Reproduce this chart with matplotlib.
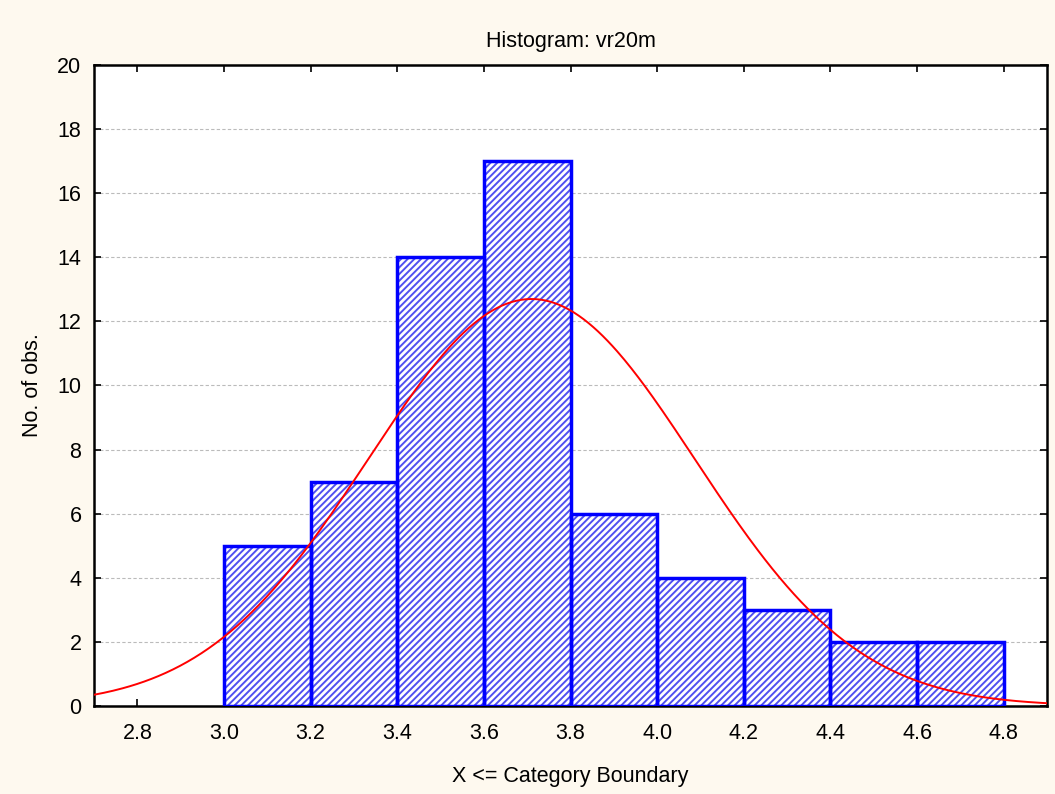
import numpy as np
import matplotlib
matplotlib.use("Agg")
import matplotlib.pyplot as plt

plt.rcParams['font.family'] = ['Liberation Sans', 'DejaVu Sans']
plt.rcParams['hatch.linewidth'] = 1.4

bin_edges = [3.0, 3.2, 3.4, 3.6, 3.8, 4.0, 4.2, 4.4, 4.6, 4.8]
counts = [5, 7, 14, 17, 6, 4, 3, 2, 2]
fit_mean = 3.71
fit_sd = 0.377
x_ticks = [2.8, 3.0, 3.2, 3.4, 3.6, 3.8, 4.0, 4.2, 4.4, 4.6, 4.8]
y_ticks = [0, 2, 4, 6, 8, 10, 12, 14, 16, 18, 20]

fig = plt.figure(figsize=(10.55, 7.94), dpi=100, facecolor='#FEF9EF')
ax = fig.add_axes([94/1055, 1-706/794, (1047-94)/1055, (706-65)/794])
ax.set_facecolor('white')

lefts = bin_edges[:-1]
width = bin_edges[1] - bin_edges[0]
ax.bar(lefts, counts, width=width, align='edge', color='white',
       edgecolor='#5050F0', hatch='/////', linewidth=0, zorder=2)
ax.bar(lefts, counts, width=width, align='edge', fill=False,
       edgecolor='#0000FF', linewidth=2.5, zorder=3)

n = sum(counts)
xs = np.linspace(2.7, 4.9, 400)
ys = n * width / (fit_sd * np.sqrt(2 * np.pi)) * np.exp(-0.5 * ((xs - fit_mean) / fit_sd) ** 2)
ax.plot(xs, ys, color='#FF0000', linewidth=1.4, zorder=4)

ax.set_xlim(2.7, 4.9)
ax.set_ylim(0, 20)
ax.set_xticks(x_ticks)
ax.set_xticklabels([f'{v:.1f}' for v in x_ticks])
ax.set_yticks(y_ticks)
ax.yaxis.grid(True, linestyle=(0, (3, 2)), color='#BBBBBB', linewidth=0.8, zorder=0)
ax.set_axisbelow(True)
ax.tick_params(direction='in', top=True, right=True, length=5, width=1.2,
               labelsize=15.5, colors='black')
ax.tick_params(axis='x', pad=12)
ax.tick_params(axis='y', pad=9)
for s in ax.spines.values():
    s.set_linewidth(1.8)

ax.set_title('Histogram: vr20m', fontsize=15.5, pad=13)
ax.set_xlabel('X <= Category Boundary', fontsize=15.5, labelpad=16)
ax.set_ylabel('No. of obs.', fontsize=15.5, labelpad=10)

fig.savefig('out.png', dpi=100, facecolor=fig.get_facecolor())
